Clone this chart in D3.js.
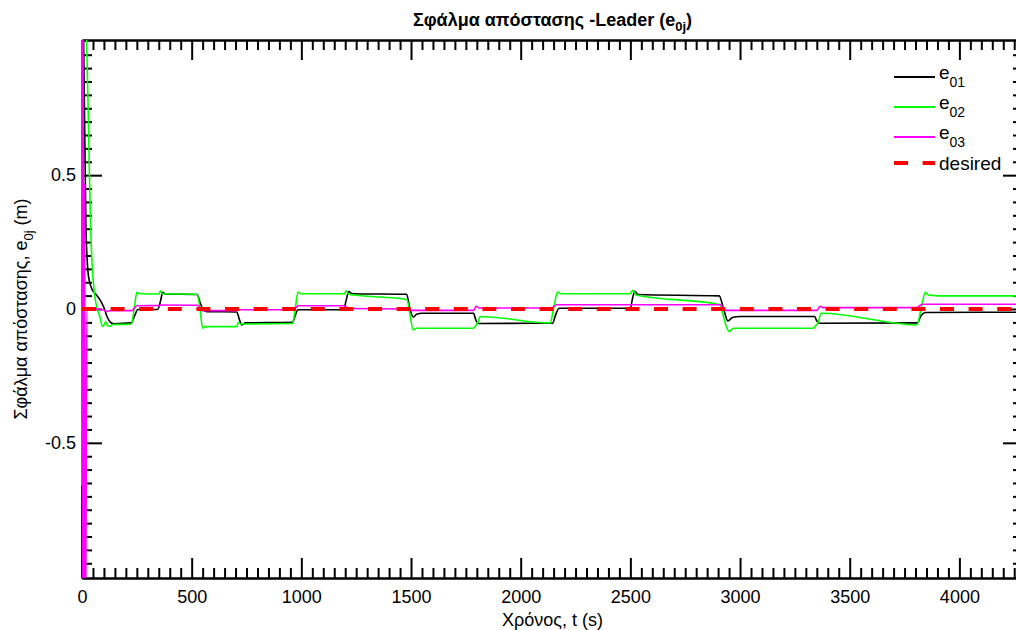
<!DOCTYPE html>
<html>
<head>
<meta charset="utf-8">
<script src="https://cdn.jsdelivr.net/npm/d3@7"></script>
<style>
  body { margin: 0; background: #fff; }
  text { font-family: "Liberation Sans", Arial, Helvetica, sans-serif; }
</style>
</head>
<body>
<svg id="chart" width="1016" height="630"></svg>
<script>
// ---- data: distance error of each follower relative to the leader ----
const xMajorTicks = [0, 500, 1000, 1500, 2000, 2500, 3000, 3500, 4000];
const xMinorStep = 50;
const yMajorTicks = [-0.5, 0, 0.5];
const yTickLabels = ["-0.5", "0", "0.5"];
const yMinorStep = 0.05;
const legendNames = ["01", "02", "03", "desired"];

// [time (s), error (m)]
const e01 = [
  [0, -1.2], [1.5, 1.2], [5, 1.15], [18, 0.3], [30, 0.12], [45, 0.075], [60, 0.058],
  [85, 0.03], [100, 0.005], [115, -0.03], [130, -0.05], [145, -0.055],
  [225, -0.052], [240, -0.025], [255, -0.002],
  [345, -0.002], [358, 0.03], [368, 0.062], [380, 0.056],
  [525, 0.054], [540, 0.02], [555, -0.005], [570, -0.01],
  [705, -0.011], [718, -0.04], [728, -0.06], [745, -0.052],
  [960, -0.05], [972, -0.025], [985, -0.003],
  [1192, -0.003], [1205, 0.035], [1216, 0.065], [1232, 0.057],
  [1480, 0.055], [1495, 0.0], [1510, -0.03], [1525, -0.02], [1550, -0.016],
  [1785, -0.016], [1795, -0.04], [1805, -0.054],
  [2145, -0.053], [2160, -0.02], [2175, 0.003],
  [2500, 0.003], [2510, 0.04], [2520, 0.066], [2535, 0.054],
  [2905, 0.049], [2925, 0.0], [2945, -0.045], [2965, -0.032], [3000, -0.028],
  [3340, -0.028], [3350, -0.045], [3362, -0.053],
  [3808, -0.052], [3825, -0.025], [3845, -0.013],
  [4290, -0.012]
];

const e02 = [
  [0, -0.66], [1, 1.3], [8, 1.5], [21, 1.0], [27, 0.79], [33, 0.54], [40, 0.29],
  [46, 0.17], [55, 0.07], [67, 0.008], [82, -0.03], [93, -0.065], [100, -0.06],
  [108, -0.048], [118, -0.063], [128, -0.065], [140, -0.058],
  [225, -0.057], [238, 0.0], [250, 0.062], [262, 0.058],
  [350, 0.056], [358, 0.068], [366, 0.057],
  [525, 0.055], [538, 0.0], [550, -0.072], [562, -0.066],
  [705, -0.066], [713, -0.05], [722, -0.056],
  [960, -0.054], [972, 0.0], [985, 0.063], [998, 0.057],
  [1195, 0.057], [1205, 0.068], [1215, 0.055], [1240, 0.052],
  [1482, 0.035], [1495, -0.02], [1510, -0.078], [1525, -0.072],
  [1783, -0.072], [1795, -0.062], [1805, -0.05], [1815, -0.028],
  [2134, -0.052], [2150, 0.0], [2168, 0.063], [2185, 0.057],
  [2498, 0.057], [2512, 0.07], [2525, 0.052],
  [2909, 0.016], [2925, -0.03], [2950, -0.084], [2970, -0.072],
  [3333, -0.072], [3345, -0.062], [3355, -0.052], [3370, -0.016],
  [3807, -0.059], [3825, 0.0], [3845, 0.062], [3860, 0.052], [3900, 0.049],
  [4290, 0.049]
];

const e03 = [
  [0, 0], [1, 1.3], [3, -1.3], [5, 1.3], [8, -1.3], [11, 0.47], [16, -1.3], [22, 0.0],
  [60, 0.0], [100, -0.004], [112, -0.009], [130, -0.006],
  [228, -0.006], [240, 0.005], [252, 0.012],
  [355, 0.013], [362, 0.015],
  [528, 0.014], [545, -0.006],
  [708, -0.006], [720, -0.003],
  [965, -0.003], [985, 0.012],
  [1195, 0.012], [1215, 0.002],
  [1485, 0.0], [1500, -0.005],
  [1785, -0.005], [1797, 0.01], [1810, 0.004],
  [2140, 0.004], [2165, 0.016],
  [2500, 0.016],
  [2910, 0.016], [2935, -0.005],
  [3350, -0.005], [3365, 0.01], [3378, 0.005],
  [3805, 0.005], [3830, 0.018],
  [4290, 0.018]
];

const desired = [[0, 0], [4290, 0]];

// ---- layout ----
const svg = d3.select("#chart");
const plotLeft = 82, plotRight = 1023, plotTop = 40, plotBottom = 578;
const x = d3.scaleLinear().domain([0, 4290]).range([plotLeft, plotRight]);
const y = d3.scaleLinear().domain([-1.005, 1.005]).range([plotBottom, plotTop]);

const xMinor = d3.range(0, 4290, xMinorStep).filter(v => v % 500 !== 0);
const yMinor = d3.range(-1, 1.0001, yMinorStep)
  .map(v => Math.round(v * 100) / 100)
  .filter(v => Math.abs(Math.round(v * 100) % 50) !== 0);

function styleAxis(g) {
  g.selectAll("path.domain").attr("stroke", "#000").attr("stroke-width", 2);
  g.selectAll(".tick line").attr("stroke", "#000").attr("stroke-width", 2);
  g.selectAll(".tick text").attr("fill", "#000")
    .style("font-family", '"Liberation Sans", Arial, sans-serif')
    .style("font-size", "18px");
}

const axes = svg.append("g");

// bottom axis: labelled major ticks and minor ticks, all pointing inward
axes.append("g").attr("transform", `translate(0,${plotBottom})`)
  .call(d3.axisBottom(x).tickValues(xMinor).tickSizeInner(-10).tickSizeOuter(0).tickFormat(""))
  .call(styleAxis);
axes.append("g").attr("transform", `translate(0,${plotBottom})`)
  .call(d3.axisBottom(x).tickValues(xMajorTicks).tickSizeInner(-20).tickSizeOuter(0).tickPadding(12).tickFormat(d3.format("d")))
  .call(styleAxis);

// top axis (ticks only)
axes.append("g").attr("transform", `translate(0,${plotTop})`)
  .call(d3.axisTop(x).tickValues(xMinor).tickSizeInner(-10).tickSizeOuter(0).tickFormat(""))
  .call(styleAxis);
axes.append("g").attr("transform", `translate(0,${plotTop})`)
  .call(d3.axisTop(x).tickValues(xMajorTicks).tickSizeInner(-20).tickSizeOuter(0).tickFormat(""))
  .call(styleAxis);

// left axis with labels
axes.append("g").attr("transform", `translate(${plotLeft},0)`)
  .call(d3.axisLeft(y).tickValues(yMinor).tickSizeInner(-10).tickSizeOuter(0).tickFormat(""))
  .call(styleAxis);
axes.append("g").attr("transform", `translate(${plotLeft},0)`)
  .call(d3.axisLeft(y).tickValues(yMajorTicks).tickSizeInner(-20).tickSizeOuter(0).tickPadding(6)
    .tickFormat((d, i) => yTickLabels[i]))
  .call(styleAxis);

// right axis (ticks only)
axes.append("g").attr("transform", `translate(${plotRight},0)`)
  .call(d3.axisRight(y).tickValues(yMinor).tickSizeInner(-10).tickSizeOuter(0).tickFormat(""))
  .call(styleAxis);
axes.append("g").attr("transform", `translate(${plotRight},0)`)
  .call(d3.axisRight(y).tickValues(yMajorTicks).tickSizeInner(-20).tickSizeOuter(0).tickFormat(""))
  .call(styleAxis);

// ---- data lines ----
svg.append("defs").append("clipPath").attr("id", "plotClip")
  .append("rect").attr("x", plotLeft - 2).attr("y", plotTop)
  .attr("width", plotRight - plotLeft + 2).attr("height", plotBottom - plotTop);

const line = d3.line().x(d => x(d[0])).y(d => y(d[1])).curve(d3.curveMonotoneX);
const plot = svg.append("g").attr("clip-path", "url(#plotClip)");

const seriesDefs = [
  { data: e01, color: "#000000", width: 1.6, dash: null },
  { data: e02, color: "#00ff00", width: 1.6, dash: null },
  { data: e03, color: "#ff00ff", width: 1.6, dash: null },
  { data: desired, color: "#ff0000", width: 4, dash: "14,14.6" }
];

plot.selectAll("path.series").data(seriesDefs).join("path")
  .attr("class", "series")
  .attr("d", d => line(d.data))
  .attr("fill", "none")
  .attr("stroke", d => d.color)
  .attr("stroke-width", d => d.width)
  .attr("stroke-dasharray", d => d.dash);

// ---- legend ----
const legendRowsY = [77, 107, 137, 163];
const legend = svg.append("g");
seriesDefs.forEach((s, i) => {
  const ly = legendRowsY[i];
  legend.append("line")
    .attr("x1", 894).attr("x2", 935).attr("y1", ly).attr("y2", ly)
    .attr("stroke", s.color).attr("stroke-width", s.dash ? 4 : 2)
    .attr("stroke-dasharray", s.dash);
  const t = legend.append("text").attr("x", 939).attr("fill", "#000").attr("font-size", 19);
  if (legendNames[i] === "desired") {
    t.attr("y", ly + 7).text("desired");
  } else {
    t.attr("y", ly + 2);
    t.append("tspan").text("e");
    t.append("tspan").attr("dy", 8).attr("font-size", 14).text(legendNames[i]);
  }
});

// ---- titles ----
const title = svg.append("text")
  .attr("x", (plotLeft + plotRight) / 2).attr("y", 26)
  .attr("text-anchor", "middle").attr("font-size", 18).attr("font-weight", "bold").attr("fill", "#000");
title.append("tspan").text("Σφάλμα απόστασης -Leader (e");
title.append("tspan").attr("dy", 5).attr("font-size", 13).text("0j");
title.append("tspan").attr("dy", -5).text(")");

svg.append("text")
  .attr("x", (plotLeft + plotRight) / 2).attr("y", 626)
  .attr("text-anchor", "middle").attr("font-size", 18).attr("fill", "#000")
  .text("Χρόνος, t (s)");

const ylab = svg.append("text")
  .attr("transform", `translate(27,${(plotTop + plotBottom) / 2}) rotate(-90)`)
  .attr("text-anchor", "middle").attr("font-size", 18).attr("fill", "#000");
ylab.append("tspan").text("Σφάλμα απόστασης, e");
ylab.append("tspan").attr("dy", 6).attr("font-size", 13).text("0j");
ylab.append("tspan").attr("dy", -6).text(" (m)");
</script>
</body>
</html>
